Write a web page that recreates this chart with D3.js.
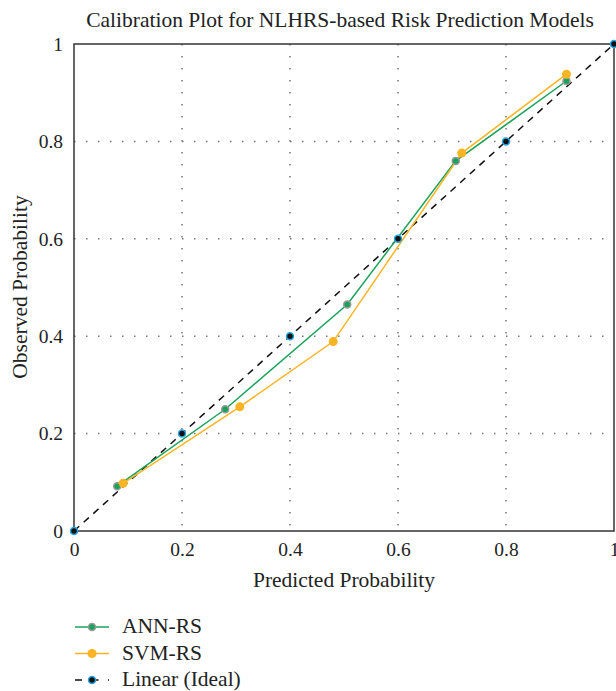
<!DOCTYPE html>
<html>
<head>
  <style>
    body { margin: 0; background: #fff; }
    text { font-family: "Liberation Serif", "DejaVu Serif", serif; fill: #222; }
  </style>
</head>
<body>
  <script src="https://d3js.org/d3.v7.min.js"></script>
  <script>
    // data
    const annX = [0.08, 0.28, 0.506, 0.707, 0.912];
    const annY = [0.092, 0.25, 0.465, 0.76, 0.924];
    const svmX = [0.091, 0.307, 0.48, 0.718, 0.912];
    const svmY = [0.098, 0.255, 0.389, 0.776, 0.938];
    const idealX = [0, 0.2, 0.4, 0.6, 0.8, 1];
    const idealY = [0, 0.2, 0.4, 0.6, 0.8, 1];
    const ticks = [0, 0.2, 0.4, 0.6, 0.8, 1];
    const tickLabels = ["0", "0.2", "0.4", "0.6", "0.8", "1"];

    const w = 616;
    const h = 691;
    const padL = 74, padR = 614, padT = 44, padB = 531;

    const x = d3.scaleLinear().domain([0, 1]).range([padL, padR]);
    const y = d3.scaleLinear().domain([0, 1]).range([padB, padT]);

    const svg = d3.select("body").append("svg")
      .attr("width", w)
      .attr("height", h);

    // dotted grid
    const grid = svg.append("g");
    grid.selectAll("line.v")
      .data(ticks.slice(1, 5))
      .enter().append("line")
      .attr("x1", d => x(d)).attr("x2", d => x(d))
      .attr("y1", y(1)).attr("y2", y(0))
      .attr("stroke", "#777").attr("stroke-width", 1.5)
      .attr("stroke-dasharray", "1.5,10.5");
    grid.selectAll("line.h")
      .data(ticks.slice(1, 5))
      .enter().append("line")
      .attr("y1", d => y(d)).attr("y2", d => y(d))
      .attr("x1", x(0)).attr("x2", x(1))
      .attr("stroke", "#777").attr("stroke-width", 1.5)
      .attr("stroke-dasharray", "1.5,10.5");

    // frame
    svg.append("rect")
      .attr("x", x(0)).attr("y", y(1))
      .attr("width", x(1) - x(0)).attr("height", y(0) - y(1))
      .attr("fill", "none").attr("stroke", "#333").attr("stroke-width", 1.5);

    // axes (labels only)
    const xAxis = d3.axisBottom(x).tickValues(ticks).tickSize(0).tickPadding(11)
      .tickFormat((d, i) => tickLabels[i]);
    const yAxis = d3.axisLeft(y).tickValues(ticks).tickSize(0).tickPadding(11)
      .tickFormat((d, i) => tickLabels[i]);
    const gx = svg.append("g").attr("transform", "translate(0," + padB + ")").call(xAxis);
    const gy = svg.append("g").attr("transform", "translate(" + padL + ",0)").call(yAxis);
    [gx, gy].forEach(g => {
      g.select(".domain").remove();
      g.selectAll("text").attr("font-size", 19.5).attr("font-family", "Liberation Serif").attr("fill", "#222");
    });

    const line = d3.line().x(d => x(d[0])).y(d => y(d[1]));
    const zip = (a, b) => a.map((v, i) => [v, b[i]]);

    // ideal
    svg.append("path").datum(zip(idealX, idealY))
      .attr("d", line).attr("fill", "none")
      .attr("stroke", "#111").attr("stroke-width", 1.5).attr("stroke-dasharray", "7,6");

    // ANN-RS
    svg.append("path").datum(zip(annX, annY))
      .attr("d", line).attr("fill", "none")
      .attr("stroke", "#1aa35a").attr("stroke-width", 1.5);
    // SVM-RS
    svg.append("path").datum(zip(svmX, svmY))
      .attr("d", line).attr("fill", "none")
      .attr("stroke", "#fbb424").attr("stroke-width", 1.5);

    svg.append("g").selectAll("circle")
      .data(zip(idealX, idealY)).enter().append("circle")
      .attr("cx", d => x(d[0])).attr("cy", d => y(d[1])).attr("r", 3.5)
      .attr("fill", "#111").attr("stroke", "#2aa6e0").attr("stroke-width", 1.5);
    svg.append("g").selectAll("circle")
      .data(zip(annX, annY)).enter().append("circle")
      .attr("cx", d => x(d[0])).attr("cy", d => y(d[1])).attr("r", 3.5)
      .attr("fill", "#16a35a").attr("stroke", "#999").attr("stroke-width", 1.5);
    svg.append("g").selectAll("circle")
      .data(zip(svmX, svmY)).enter().append("circle")
      .attr("cx", d => x(d[0])).attr("cy", d => y(d[1])).attr("r", 4.5)
      .attr("fill", "#fbb424");

    // title and axis labels
    svg.append("text").attr("x", 340).attr("y", 27).attr("text-anchor", "middle")
      .attr("font-size", 21.5).text("Calibration Plot for NLHRS-based Risk Prediction Models");
    svg.append("text").attr("x", 344).attr("y", 587).attr("text-anchor", "middle")
      .attr("font-size", 21.5).text("Predicted Probability");
    svg.append("text").attr("transform", "translate(27,287) rotate(-90)").attr("text-anchor", "middle")
      .attr("font-size", 21.5).text("Observed Probability");

    // legend
    const legend = [
      { name: "ANN-RS", color: "#1aa35a", fill: "#16a35a", stroke: "#999", dash: null, r: 3.5 },
      { name: "SVM-RS", color: "#fbb424", fill: "#fbb424", stroke: "none", dash: null, r: 4.5 },
      { name: "Linear (Ideal)", color: "#111", fill: "#111", stroke: "#2aa6e0", dash: "7,6", r: 3.5 }
    ];
    const lg = svg.append("g").selectAll("g").data(legend).enter().append("g")
      .attr("transform", (d, i) => "translate(75," + (627 + i * 26.5) + ")");
    lg.append("line").attr("x1", 0).attr("x2", 34).attr("y1", 0).attr("y2", 0)
      .attr("stroke", d => d.color).attr("stroke-width", 1.5)
      .attr("stroke-dasharray", d => d.dash ? "7,9.5" : null);
    lg.append("circle").attr("cx", 17).attr("cy", 0).attr("r", d => d.r)
      .attr("fill", d => d.fill).attr("stroke", d => d.stroke).attr("stroke-width", 1.5);
    lg.append("text").attr("x", 47).attr("y", 6).attr("font-size", 21.5).text(d => d.name);
  </script>
</body>
</html>
